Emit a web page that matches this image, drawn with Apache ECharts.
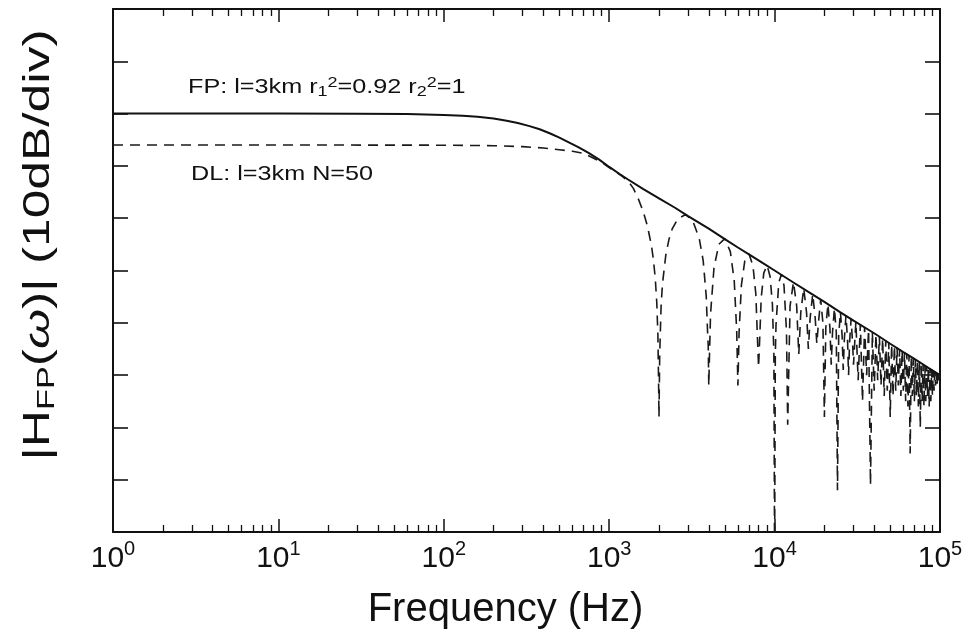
<!DOCTYPE html>
<html>
<head>
<meta charset="utf-8">
<script src="https://cdn.jsdelivr.net/npm/echarts@6/dist/echarts.min.js"></script>
<style>
html,body{margin:0;padding:0;background:#fff;}
#chart{width:971px;height:637px;}
</style>
</head>
<body>
<div id="chart"></div>
<script>
// Decade tick labels (exponents of 10) and minor tick positions
const decadeExponents = [0, 1, 2, 3, 4, 5];
const minorTickValues = [2,3,4,5,6,7,8,9,20,30,40,50,60,70,80,90,200,300,400,500,600,700,800,900,
  2000,3000,4000,5000,6000,7000,8000,9000,20000,30000,40000,50000,60000,70000,80000,90000];

// Fabry-Perot response (Hz, dB)
const fpFreq = [1,10,30,60,100,130,160,200,240,280,330,380,440,500,570,650,750,870,1000,1150,1300,1600,2000,2500,3000,4000,5000,6000,7000,8500,10000,13000,16000,20000,25000,30000,40000,50000,60000,70000,85000,100000];
const fpMag  = [-20,-20,-20.02,-20.1,-20.25,-20.42,-20.62,-20.95,-21.35,-21.8,-22.4,-23.0,-23.8,-24.6,-25.5,-26.4,-27.5,-28.8,-30.2,-31.5,-32.6,-34.4,-36.2,-38.0,-39.6,-42.0,-44.0,-45.6,-46.9,-48.6,-50.0,-52.3,-54.1,-56.0,-58.0,-59.6,-62.0,-64.0,-65.6,-66.9,-68.6,-70.0];

// Delay-line response (Hz, dB)
const dlFreq = [
  1,10,100,200,300,400,500,600,700,800,900,1000,1100,1200,1300,1400,1500,1600,1700,1800,1850,1900,1940,1970,1990,2000,
  2020,2060,2100,2200,2300,2400,2600,2900,3200,3500,3700,3860,3940,3970,4000,
  4040,4100,4300,4600,5000,5400,5700,5900,6000,
  6100,6300,6600,7000,7400,7700,7900,8000,
  8100,8300,8600,9000,9400,9700,9900,10000,
  10100,10200,10600,11000,11400,11800,12000,
  12400,13000,13600,14000,14400,15000,15600,16000,16400,17000,17600,18000,18400,19000,19600,20000,
  20400,21000,21600,22000,22400,23000,23600,24000,24400,25000,25600,26000,26400,27000,27600,28000,
  28400,29000,29600,30000,
  31000,32000,33000,34000,35000,36000,37000,38000,39000,40000,41000,42000,43000,44000,45000,46000,
  47000,48000,49000,50000,51000,52000,53000,54000,55000,56000,57000,58000,59000,60000,61000,62000,
  63000,64000,65000,66000,67000,68000,69000,70000,71000,72000,73000,74000,75000,76000,77000,78000,
  79000,80000,81000,82000,83000,84000,85000,86000,87000,88000,89000,90000,91000,92000,93000,94000,
  95000,96000,97000,98000,99000,100000];
const dlMag = [
  -26,-26,-26.04,-26.14,-26.32,-26.58,-26.91,-27.2,-27.6,-28.5,-29.3,-30.3,-31.2,-32.0,-32.9,-34.3,-36.3,-38.6,-41.4,-45.2,-47.9,-51.6,-56.2,-62.4,-72,-78,
  -66.1,-56.7,-52.5,-47.0,-44.0,-42.1,-40.1,-39.3,-40.5,-43.8,-48.1,-54.9,-62.4,-64.5,-72,
  -66.1,-58.3,-49.5,-45.0,-43.9,-46.4,-51.9,-61.5,-72,
  -61.8,-52.8,-48.2,-46.8,-49.1,-54.5,-64,-68.5,
  -64.2,-55.2,-50.5,-49.0,-51.2,-56.5,-66,-106,
  -66.1,-60.3,-52.3,-50.7,-52.9,-61.6,-79.5,
  -56.8,-52.2,-56.8,-66,-58.0,-53.4,-58.0,-65,-59.1,-54.5,-59.1,-64,-60.1,-55.5,-60.1,-78,
  -61.0,-56.4,-61.0,-68,-61.8,-57.2,-61.8,-92,-62.5,-57.9,-62.5,-69,-63.2,-58.6,-63.2,-70,
  -63.8,-59.2,-63.8,-68,
  -59.8,-71,-60.3,-75,-60.8,-70,-61.3,-91,-61.7,-73,-62.2,-71,-62.6,-72,-63.0,-74,
  -63.4,-73,-63.7,-78,-64.1,-74,-64.4,-73,-64.7,-72,-65.0,-74,-65.3,-73,-65.6,-75,
  -65.9,-76,-66.2,-85,-66.4,-74,-66.7,-75,-67.0,-74,-67.2,-76,-67.4,-80,-67.7,-75,
  -67.9,-76,-68.1,-75,-68.3,-74,-68.5,-76,-68.7,-75,-68.9,-74,-69.1,-73,-69.3,-72,
  -69.5,-72,-69.7,-71,-69.8,-70.5];

const fpData = fpFreq.map((f, i) => [f, fpMag[i]]);
const dlData = dlFreq.map((f, i) => [f, dlMag[i]]);

const ink = '#111';
const chart = echarts.init(document.getElementById('chart'), null, {renderer: 'canvas'});

const baseX = {
  type: 'log', logBase: 10, min: 1, max: 100000,
  splitLine: {show: false},
  axisLine: {show: false, onZero: false},
  axisLabel: {show: false},
  axisTick: {show: false}
};
const baseY = {
  type: 'value', min: -100, max: 0, interval: 10,
  splitLine: {show: false},
  axisLabel: {show: false},
  axisLine: {show: true, onZero: false, lineStyle: {color: ink, width: 2}},
  axisTick: {show: true, inside: true, length: 15, lineStyle: {color: ink, width: 1.6}}
};

chart.setOption({
  animation: false,
  backgroundColor: '#fff',
  grid: {left: 113, right: 31, top: 9, bottom: 105, containLabel: false},
  xAxis: [
    Object.assign({}, baseX, {
      position: 'bottom',
      axisLine: {show: true, onZero: false, lineStyle: {color: ink, width: 2}},
      axisTick: {show: true, inside: true, length: 13, lineStyle: {color: ink, width: 1.5}},
      axisLabel: {
        show: true, margin: 7,
        formatter: function (v) { return '{b|10}{s|' + Math.round(Math.log10(v)) + '}'; },
        rich: {
          b: {fontFamily: 'Liberation Sans', fontSize: 30, lineHeight: 40, color: ink},
          s: {fontFamily: 'Liberation Sans', fontSize: 20, lineHeight: 18, verticalAlign: 'top', color: ink}
        }
      },
      name: 'Frequency (Hz)', nameLocation: 'middle', nameGap: 56,
      nameTextStyle: {fontFamily: 'Liberation Sans', fontSize: 40, lineHeight: 44, color: ink, padding: [0, 42, 0, 0]}
    }),
    Object.assign({}, baseX, {
      position: 'bottom',
      axisTick: {show: true, inside: true, length: 7, customValues: minorTickValues, lineStyle: {color: ink, width: 1.3}}
    }),
    Object.assign({}, baseX, {
      position: 'top',
      axisLine: {show: true, onZero: false, lineStyle: {color: ink, width: 2}},
      axisTick: {show: true, inside: true, length: 13, lineStyle: {color: ink, width: 1.5}}
    }),
    Object.assign({}, baseX, {
      position: 'top',
      axisTick: {show: true, inside: true, length: 7, customValues: minorTickValues, lineStyle: {color: ink, width: 1.3}}
    })
  ],
  yAxis: [
    Object.assign({}, baseY, {position: 'left'}),
    Object.assign({}, baseY, {position: 'right'})
  ],
  series: [
    {
      name: 'DL: l=3km N=50', type: 'line', xAxisIndex: 0, yAxisIndex: 0,
      data: dlData, showSymbol: false, clip: true, smooth: false,
      lineStyle: {color: '#1a1a1a', width: 1.6, type: [10, 7]}
    },
    {
      name: 'FP: l=3km r1^2=0.92 r2^2=1', type: 'line', xAxisIndex: 0, yAxisIndex: 0,
      data: fpData, showSymbol: false, clip: true, smooth: false,
      lineStyle: {color: ink, width: 2}
    }
  ],
  graphic: [
    {
      type: 'text', x: 188, y: 87, scaleX: 1.2, scaleY: 1,
      style: {
        text: '{m|FP: l=3km r}{d|1}{u|2}{m|=0.92 r}{d|2}{u|2}{m|=1}',
        align: 'left', verticalAlign: 'middle',
        rich: {
          m: {fontFamily: 'Liberation Sans', fontSize: 21, lineHeight: 24, fill: ink},
          d: {fontFamily: 'Liberation Sans', fontSize: 15, lineHeight: 12, verticalAlign: 'bottom', fill: ink},
          u: {fontFamily: 'Liberation Sans', fontSize: 15, lineHeight: 12, verticalAlign: 'top', fill: ink}
        }
      }
    },
    {
      type: 'text', x: 191, y: 174, scaleX: 1.2, scaleY: 1,
      style: {
        text: 'DL: l=3km N=50',
        font: '21px "Liberation Sans"', fill: ink,
        align: 'left', verticalAlign: 'middle'
      }
    },
    {
      type: 'text', x: 39, y: 245, rotation: Math.PI / 2, scaleX: 1.43, scaleY: 1,
      style: {
        text: '{m||H}{d|FP}{m|(}{w|ω}{m|)| (10dB/div)}',
        align: 'center', verticalAlign: 'middle',
        rich: {
          m: {fontFamily: 'Liberation Sans', fontSize: 36, lineHeight: 40, fill: ink},
          w: {fontFamily: 'Liberation Sans', fontSize: 36, lineHeight: 40, fontStyle: 'italic', fill: ink},
          d: {fontFamily: 'Liberation Sans', fontSize: 24, lineHeight: 30, verticalAlign: 'bottom', fill: ink}
        }
      }
    }
  ]
});
</script>
</body>
</html>
